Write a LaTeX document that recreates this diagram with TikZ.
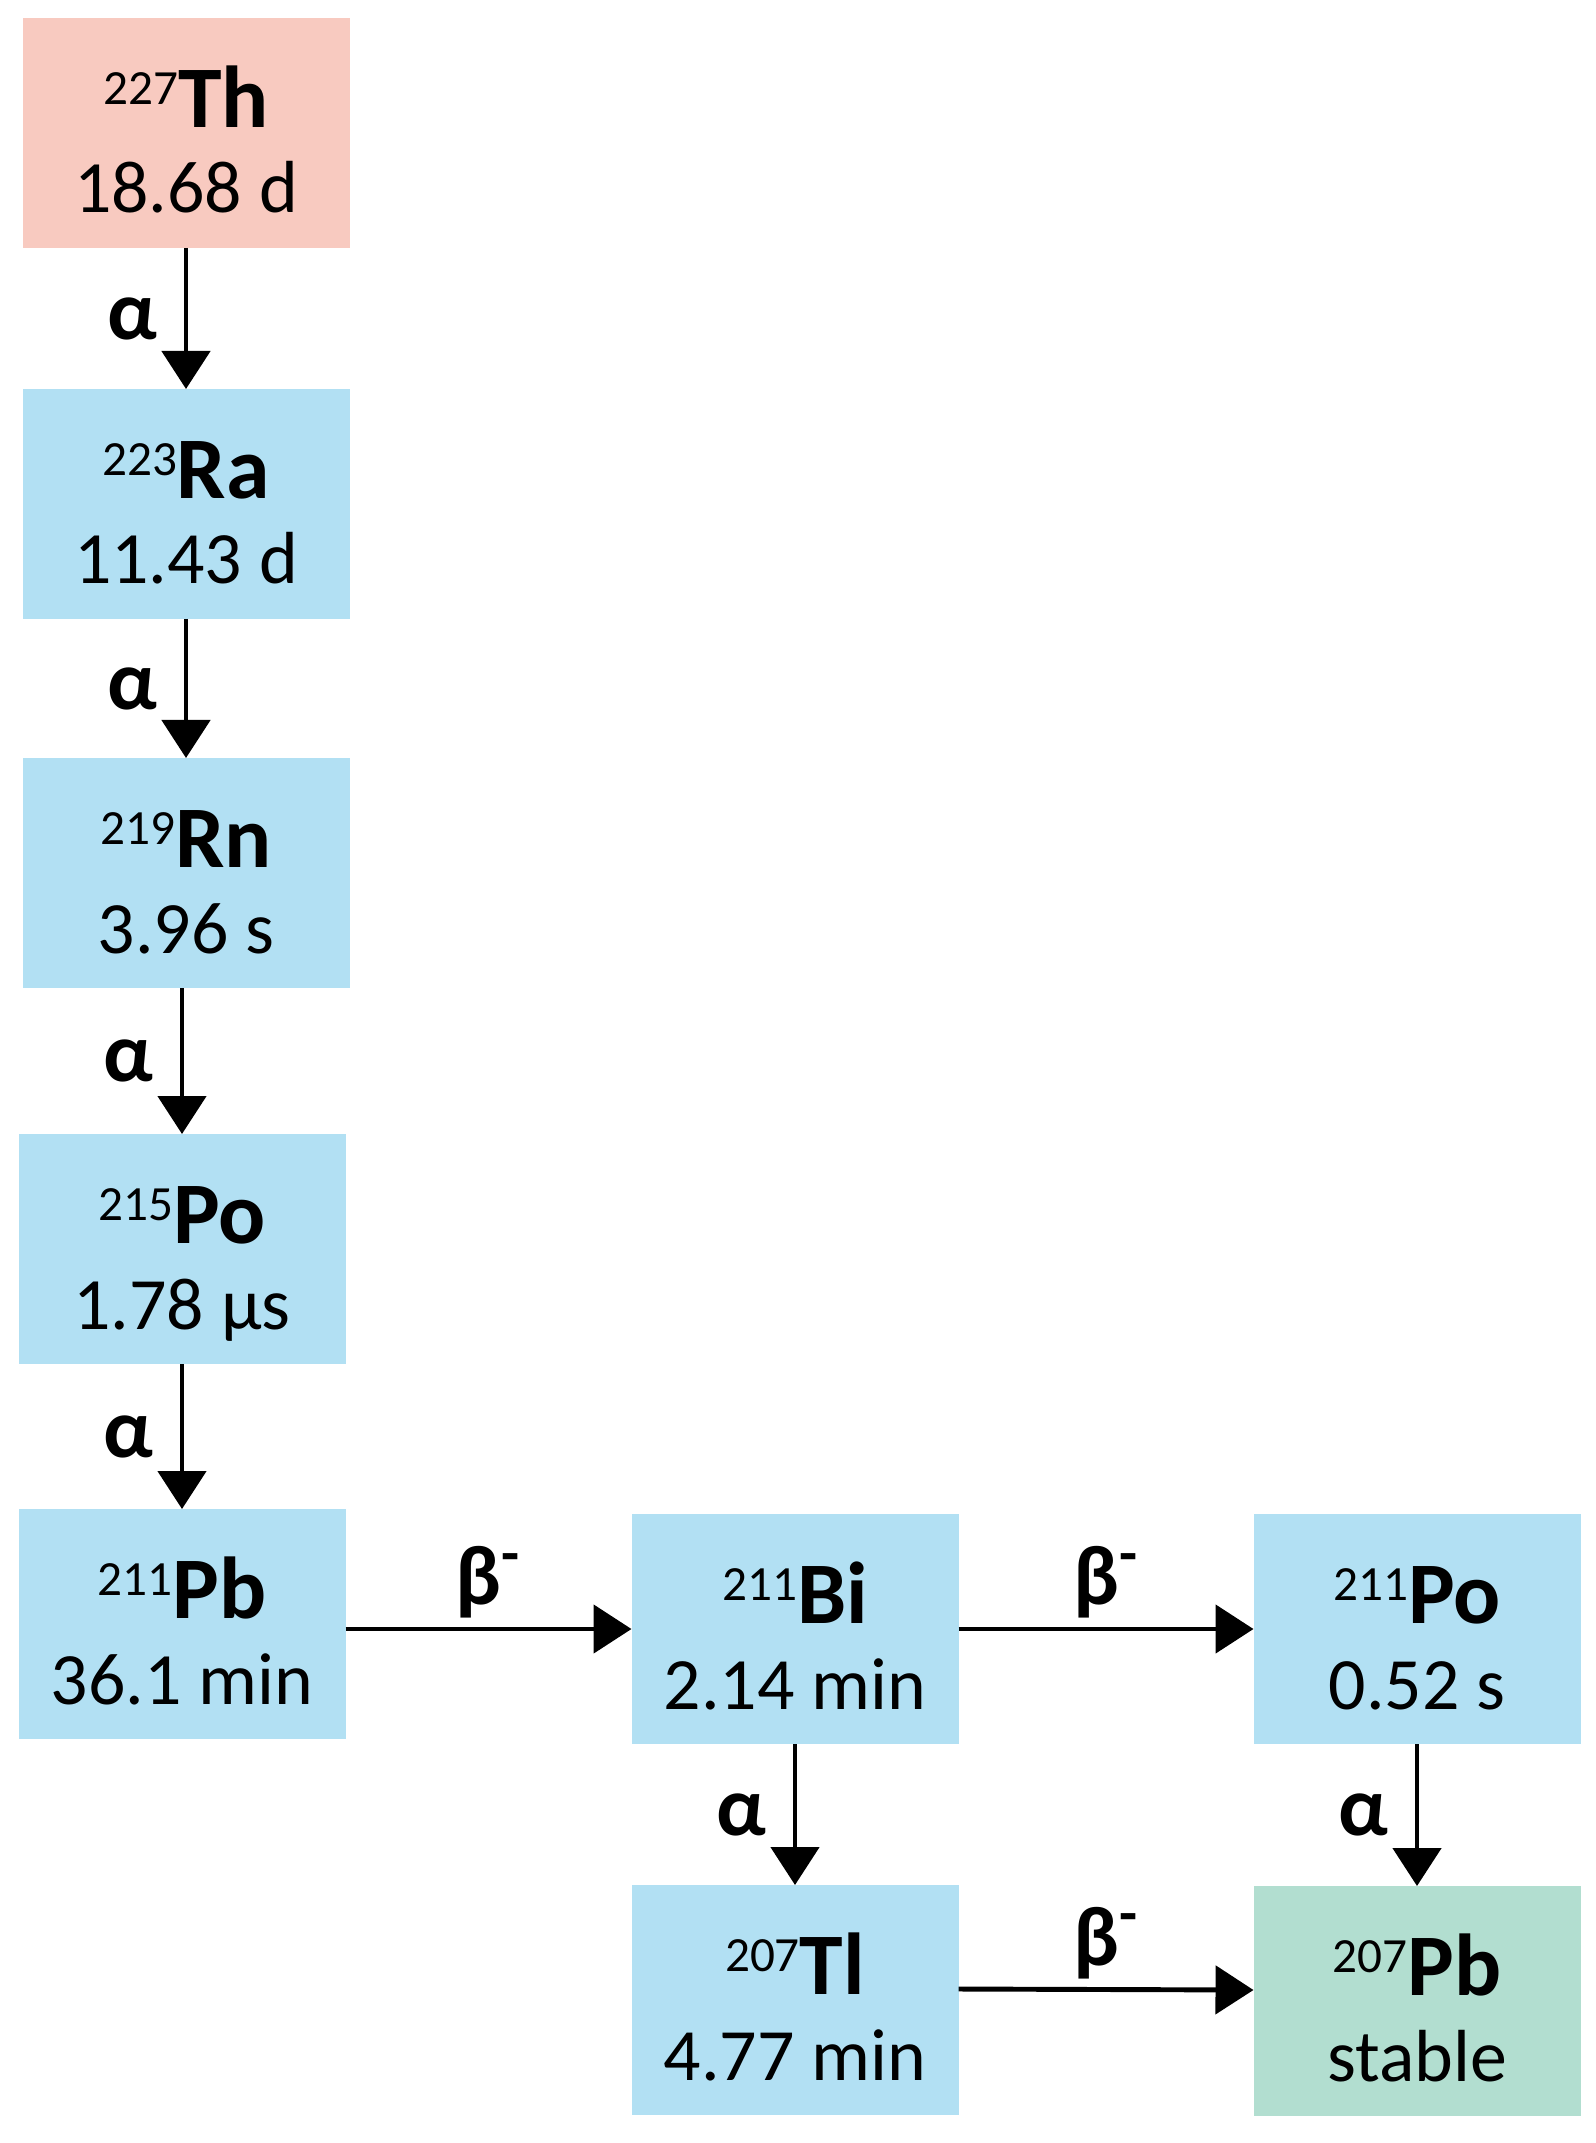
\documentclass[tikz,border=0pt]{standalone}
\usepackage{fontspec}
\setmainfont{Carlito}
\usetikzlibrary{arrows.meta}

\definecolor{thpink}{RGB}{248,202,192}
\definecolor{nucblue}{RGB}{178,224,243}
\definecolor{pbgreen}{RGB}{178,222,208}

\newcommand{\nuc}[2]{{\fontsize{14}{24.2}\selectfont\raisebox{6.8pt}{#1}}{\fontsize{25}{24.2}\selectfont\bfseries #2}}

\begin{document}
\begin{tikzpicture}[
	nuclide/.style={shape=rectangle, fill=nucblue, minimum width=3.27cm, minimum height=2.3cm,
		inner sep=0pt, outer sep=0pt, align=center, font=\fontsize{21}{24.2}\selectfont,
		text height=1.60cm, text depth=0pt},
	decay/.style={-{Triangle[width=0.48cm,length=0.38cm]}, line width=1.4pt},
	alphalbl/.style={font=\fontsize{24}{24}\selectfont\bfseries, inner sep=0pt, xshift=-0.54cm},
	betalbl/.style={font=\fontsize{24}{24}\selectfont\bfseries, inner sep=0pt, above=0.08cm}
	]
	\useasboundingbox (0,0) rectangle (15.95,-21.43);
	
	\node[nuclide, fill=thpink] (th227) at (1.86, -1.33)  {\nuc{227}{Th}\\18.68 d};
	\node[nuclide] (ra223) at (1.86, -5.04)  {\nuc{223}{Ra}\\11.43 d};
	\node[nuclide] (rn219) at (1.86, -8.73)  {\nuc{219}{Rn}\\3.96 s};
	\node[nuclide] (po215) at (1.82, -12.49) {\nuc{215}{Po}\\1.78 µs};
	\node[nuclide] (pb211) at (1.82, -16.24) {\nuc{211}{Pb}\\36.1 min};
	
	\node[nuclide] (bi211) at (7.95, -16.29)  {\nuc{211}{Bi}\\2.14 min};
	\node[nuclide] (po211) at (14.17, -16.29) {\nuc{211}{Po}\\0.52 s};
	\node[nuclide] (tl207) at (7.95, -20.00)  {\nuc{207}{Tl}\\4.77 min};
	\node[nuclide, fill=pbgreen] (pb207) at (14.17, -20.01) {\nuc{207}{Pb}\\stable};
	
	\path[decay] (th227) edge node[alphalbl] {α} (ra223);
	\path[decay] (ra223) edge node[alphalbl] {α} (rn219);
	\path[decay] (rn219.south -| po215.north) edge node[alphalbl] {α} (po215.north);
	\path[decay] (po215) edge node[alphalbl] {α} (pb211);
	\path[decay] (bi211) edge node[alphalbl] {α} (tl207);
	\path[decay] (po211) edge node[alphalbl] {α} (pb207);
	
	\path[decay] (pb211.east |- bi211) edge node[betalbl] {β\textsuperscript{-}} (bi211);
	\path[decay] (bi211) edge node[betalbl] {β\textsuperscript{-}} (po211);
	\path[decay] ([yshift=0.11cm]tl207.east) edge node[betalbl] {β\textsuperscript{-}} ([yshift=0.11cm]pb207.west);

\end{tikzpicture}
\end{document}
